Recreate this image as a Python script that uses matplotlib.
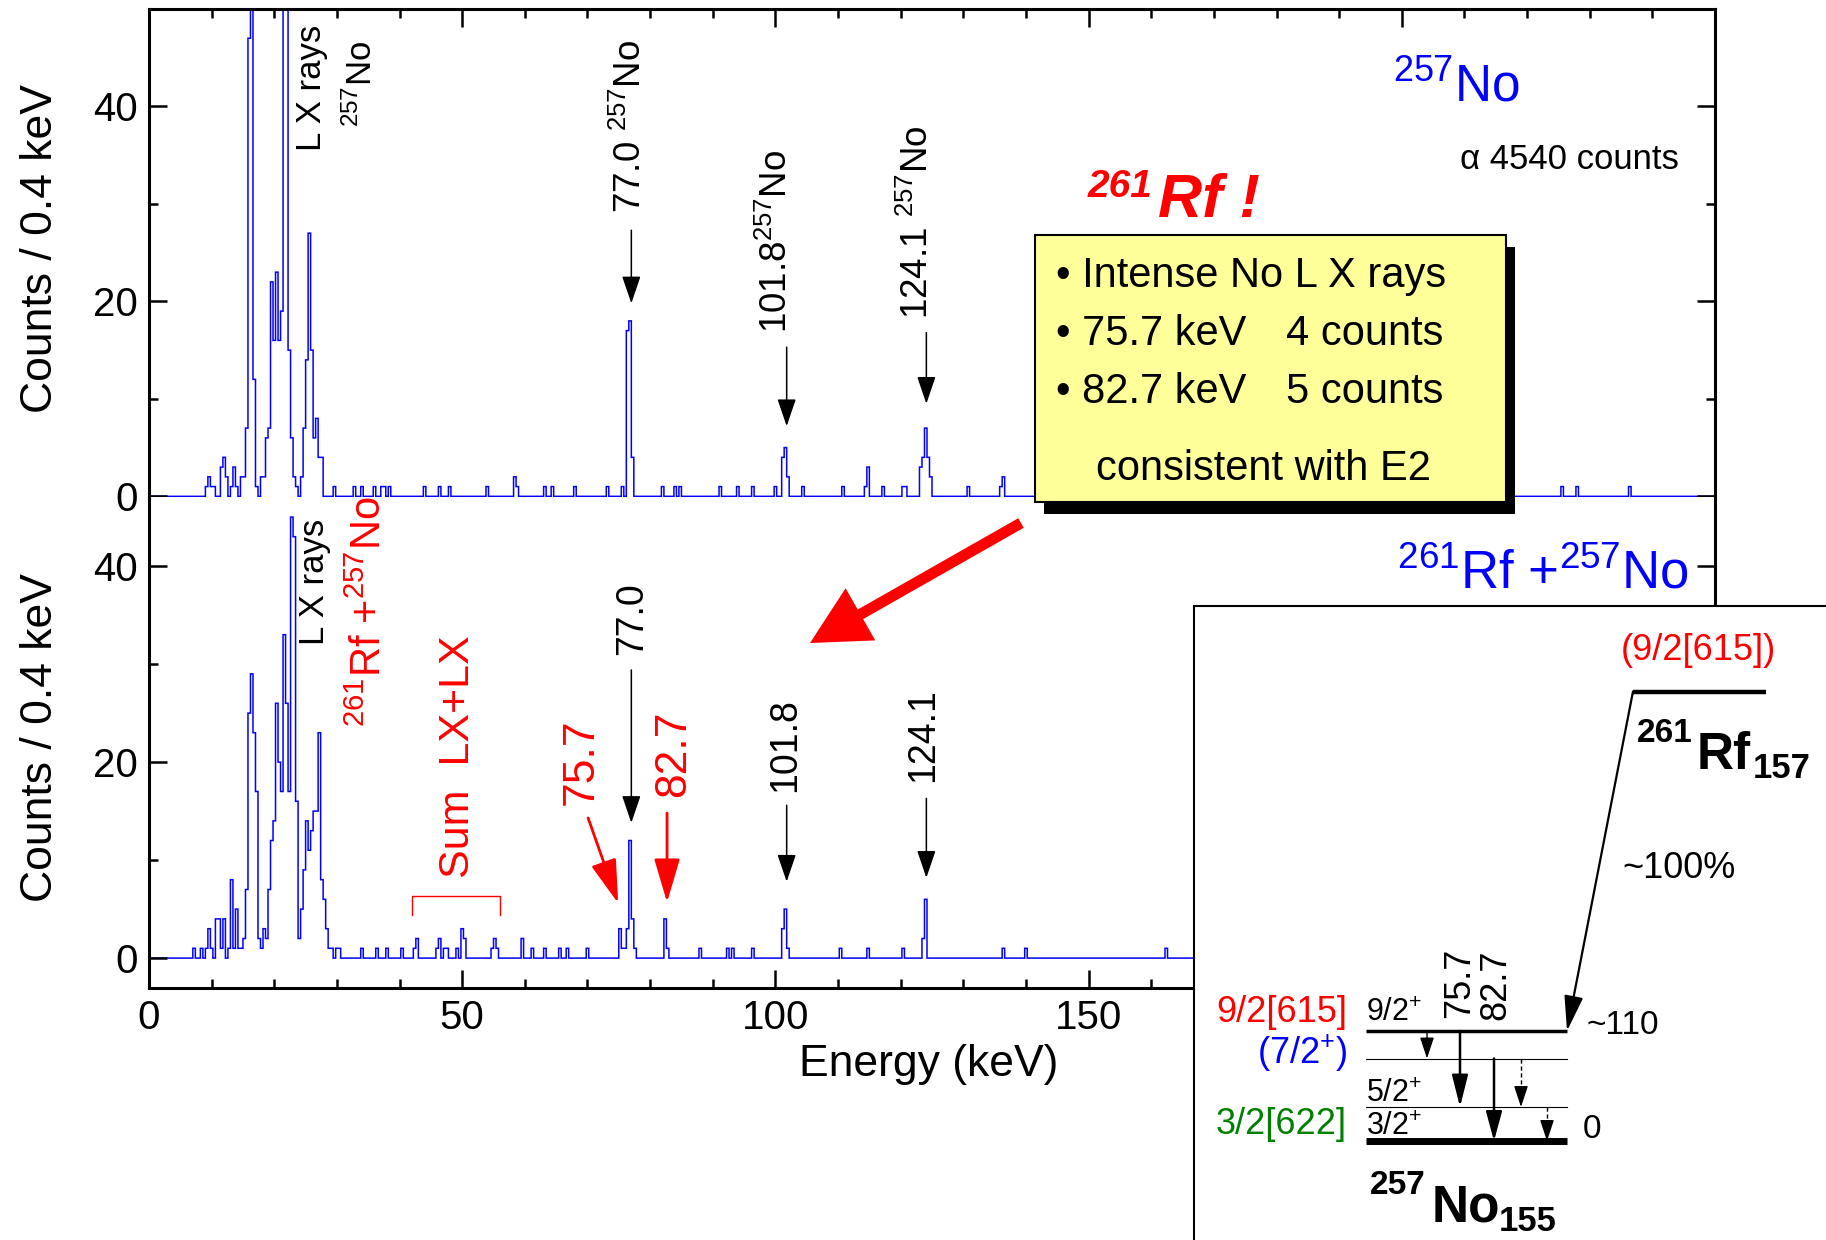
import numpy as np
import matplotlib
matplotlib.use("Agg")
import matplotlib.pyplot as plt
from matplotlib.patches import Rectangle, FancyArrow
from matplotlib.ticker import MultipleLocator, FixedLocator
from matplotlib import font_manager

# ------------------------------------------------------------------ data
bin_width = 0.4          # keV per channel
e_max = 250.0

# 257No reference spectrum (top): dense L X-ray region + isolated channels
top_dense_start = 9.0
top_dense_counts = [1, 2, 1, 1, 0, 0, 3, 4, 2, 0, 1, 3, 1, 0, 2, 2, 7, 47, 80, 12,
                    1, 0, 2, 2, 6, 7, 22, 16, 23, 16, 19, 80, 80, 15, 6, 2, 1, 0, 2, 7,
                    14, 27, 15, 6, 8, 4, 4]
top_peak_energy = [29.4, 32.6, 33.8, 35.8, 37.0, 37.4, 38.2, 43.8, 46.2, 47.8, 53.8,
                   58.2, 58.6, 63.0, 64.2, 67.8, 73.0, 75.4, 76.2, 76.6, 77.0, 81.8,
                   83.8, 84.6, 91.0, 93.8, 96.2, 99.8, 101.0, 101.4, 101.8, 104.2,
                   110.6, 114.2, 114.6, 117.0, 120.2, 120.6, 123.0, 123.4, 123.8,
                   124.2, 124.6, 130.6, 135.8, 136.2, 225.4, 227.8, 236.2]
top_peak_counts = [1, 1, 1, 1, 1, 1, 1, 1, 1, 1, 1,
                   2, 1, 1, 1, 1, 1, 1, 17, 18, 4, 1,
                   1, 1, 1, 1, 1, 1, 4, 5, 2, 1,
                   1, 1, 3, 1, 1, 1, 3, 4, 7,
                   4, 2, 1, 1, 2, 1, 1, 1]

# 261Rf + 257No spectrum (bottom)
bottom_dense_start = 7.0
bottom_dense_counts = [1, 0, 0, 1, 0, 1, 3, 1, 0, 4, 4, 1, 4, 0, 1, 8, 1, 5, 1, 1,
                       2, 7, 25, 29, 23, 17, 2, 1, 3, 2, 7, 12, 14, 26, 20, 17, 33, 26, 17, 45,
                       43, 16, 2, 5, 9, 14, 11, 13, 15, 15, 23, 8, 6, 3, 1, 1, 0, 1, 1]
bottom_peak_energy = [33.8, 36.2, 37.8, 40.2, 42.2, 42.6, 45.8, 46.2, 47.0, 47.4, 49.0,
                      49.8, 50.2, 54.6, 55.0, 55.4, 59.4, 61.0, 63.0, 65.4, 66.6, 69.8,
                      75.0, 75.4, 75.8, 76.2, 76.6, 77.0, 77.4, 82.2, 82.6, 87.8, 92.2,
                      93.0, 96.2, 101.0, 101.4, 101.8, 110.2, 114.6, 120.2, 123.4,
                      123.8, 136.2, 139.8, 162.2]
bottom_peak_counts = [1, 1, 1, 1, 1, 2, 1, 2, 1, 1, 1,
                      3, 2, 1, 2, 1, 2, 1, 1, 1, 1, 1,
                      3, 1, 1, 3, 12, 4, 1, 4, 1, 1, 1,
                      1, 1, 3, 5, 1, 1, 1, 1, 2,
                      6, 1, 1, 1]

x_ticks = [0, 50, 100, 150, 200, 250]
y_ticks = [0, 20, 40]

# gamma-line annotations: (label energy, label text)
top_lines = [(77.0, "77.0 $^{257}$No"), (101.8, "101.8$^{257}$No"), (124.1, "124.1 $^{257}$No")]
bottom_lines = [(77.0, "77.0"), (101.8, "101.8"), (124.1, "124.1")]
rf_lines = [(75.7, "75.7"), (82.7, "82.7")]

# ------------------------------------------------------------------ style
W, H, DPI = 1826, 1240, 100
FONT = "Liberation Sans"
installed = {f.name for f in font_manager.fontManager.ttflist}
NARROW = "Liberation Sans Narrow" if "Liberation Sans Narrow" in installed else FONT

plt.rcParams.update({
    "font.family": [FONT, "DejaVu Sans"],
    "mathtext.fontset": "custom",
    "mathtext.rm": FONT,
    "mathtext.it": FONT + ":italic",
    "mathtext.bf": FONT + ":bold",
})

BLUE, RED, GREEN = "#0000ff", "#ff0000", "#008000"

# ------------------------------------------------------------------ histogram
edges = np.concatenate([[0.0], np.arange(0.2, e_max, bin_width), [e_max]])


def build(start, dense, energies, counts):
    h = np.zeros(len(edges) - 1)
    k0 = int(round((start - 0.2) / bin_width)) + 1
    h[k0:k0 + len(dense)] = dense
    for e, n in zip(energies, counts):
        h[int(round((e - 0.2) / bin_width)) + 1] = n
    return h


top_hist = build(top_dense_start, top_dense_counts, top_peak_energy, top_peak_counts)
bottom_hist = build(bottom_dense_start, bottom_dense_counts, bottom_peak_energy, bottom_peak_counts)

# ------------------------------------------------------------------ figure
fig = plt.figure(figsize=(W / DPI, H / DPI), dpi=DPI)
L, R = 149 / W, 1715 / W
y_top, y_mid, y_bot = 1 - 9 / H, 1 - 497.5 / H, 1 - 987.5 / H
ax1 = fig.add_axes([L, y_mid, R - L, y_top - y_mid])
ax2 = fig.add_axes([L, y_bot, R - L, y_mid - y_bot])

ax1.stairs(top_hist, edges, color=BLUE, linewidth=1.1, baseline=None)
ax2.stairs(bottom_hist, edges, color=BLUE, linewidth=1.1, baseline=None)

for ax in (ax1, ax2):
    ax.set_xlim(0, e_max)
    ax.xaxis.set_major_locator(FixedLocator(x_ticks))
    ax.xaxis.set_minor_locator(MultipleLocator(10))
    ax.yaxis.set_major_locator(FixedLocator(y_ticks))
    ax.yaxis.set_minor_locator(MultipleLocator(10))
    ax.tick_params(which="both", direction="in", width=1.8, labelsize=29, pad=8,
                   left=True, right=True)
    ax.tick_params(which="major", length=13)
    ax.tick_params(which="minor", length=6.5)
    for s in ax.spines.values():
        s.set_linewidth(2.2)
    ax.set_ylabel("Counts / 0.4 keV", fontsize=32)
    ax.yaxis.set_label_coords(-0.056, 0.51)

ax1.set_ylim(-0.12, 50)
ax2.set_ylim(-3, 47)
ax1.tick_params(axis="x", which="both", top=True, bottom=False, labeltop=False, labelbottom=False)
ax2.tick_params(axis="x", which="both", top=False, bottom=True)
ax1.spines["bottom"].set_visible(False)
ax2.spines["top"].set_visible(False)
ax2.set_xlabel("Energy (keV)", fontsize=32)
ax2.xaxis.set_label_coords(0.498, -0.115)


def arrow(ax, x0, y0, x1, y1, color="k", lw=1.1, hl=17, hw=5.8, ls="-"):
    ax.annotate("", xy=(x1, y1), xytext=(x0, y0),
                arrowprops=dict(arrowstyle=f"-|>,head_length={hl},head_width={hw}",
                                color=color, lw=lw, shrinkA=0, shrinkB=0,
                                mutation_scale=1, linestyle=ls))


def vtext(ax, x, y, s, size, color="k", **kw):
    ax.text(x, y, s, rotation=90, ha="center", va="bottom", fontsize=size, color=color, **kw)


# ---- top panel annotations
vtext(ax1, 25.9, 35.4, "L X rays", 25)
vtext(ax1, 34.0, 37.9, "$^{257}$No", 25)
top_label_pos = [(76.9, 29.1, 27.3, 19.8), (100.3, 16.8, 15.3, 7.2), (122.8, 18.2, 16.8, 9.5)]
for (e, s), (xt, yt, ya, yb) in zip(top_lines, top_label_pos):
    vtext(ax1, xt, yt, s, 26.5)
    arrow(ax1, e, ya, e, yb)
ax1.text(0.8755, 0.811, "$^{257}$No", transform=ax1.transAxes, ha="right", va="baseline",
         fontsize=37, color=BLUE)
ax1.text(0.977, 0.672, "\u03b1 4540 counts", transform=ax1.transAxes, ha="right",
         va="baseline", fontsize=25)

# ---- bottom panel annotations
vtext(ax2, 26.4, 31.9, "L X rays", 25)
vtext(ax2, 35.2, 23.6, "$^{261}$Rf +$^{257}$No", 30, color=RED)
vtext(ax2, 49.4, 8.2, "Sum  LX+LX", 31, color=RED)
ax2.plot([42.0, 42.0, 56.0, 56.0], [4.4, 6.3, 6.3, 4.4], color=RED, lw=1.0)
bottom_label_pos = [(77.1, 30.9, 29.4, 13.8), (101.5, 17.0, 15.6, 7.8), (123.6, 18.0, 16.3, 8.2)]
for (e, s), (xt, yt, ya, yb) in zip(bottom_lines, bottom_label_pos):
    vtext(ax2, xt, yt, s, 27)
    arrow(ax2, e, ya, e, yb)
rf_label_pos = [(69.0, 15.6, 70.1, 14.3, 74.9, 5.6), (83.8, 16.4, 82.7, 14.8, 82.7, 5.7)]
for (e, s), (xt, yt, xa, ya, xb, yb) in zip(rf_lines, rf_label_pos):
    vtext(ax2, xt, yt, s, 32, color=RED)
    arrow(ax2, xa, ya, xb, yb, color=RED, lw=2.0, hl=27, hw=8)
ax2.text(0.983, 0.814, "$^{261}$Rf +$^{257}$No", transform=ax2.transAxes, ha="right",
         va="baseline", fontsize=38, color=BLUE)

# ------------------------------------------------------------------ overlay (pixel coords)
ov = fig.add_axes([0, 0, 1, 1], zorder=10)
ov.set_xlim(0, W)
ov.set_ylim(H, 0)
ov.axis("off")

# yellow summary box with shadow
ov.add_patch(Rectangle((1044, 247), 471, 267, facecolor="k", edgecolor="none"))
ov.add_patch(Rectangle((1035, 235), 471, 267, facecolor="#ffff99", edgecolor="k", lw=1.5))
ov.text(1056, 287, "\u2022 Intense No L X rays", fontsize=30, family=[NARROW, FONT], va="baseline")
ov.text(1056, 345, "\u2022 75.7 keV", fontsize=30, family=[NARROW, FONT], va="baseline")
ov.text(1286, 345, "4 counts", fontsize=30, family=[NARROW, FONT], va="baseline")
ov.text(1056, 403, "\u2022 82.7 keV", fontsize=30, family=[NARROW, FONT], va="baseline")
ov.text(1286, 403, "5 counts", fontsize=30, family=[NARROW, FONT], va="baseline")
ov.text(1263, 480, "consistent with E2", fontsize=30, family=[NARROW, FONT], va="baseline",
        ha="center")

# "261Rf !"
ov.text(1088, 197, "261", fontsize=28, color=RED, fontweight="bold", fontstyle="italic",
        va="baseline")
ov.text(1158, 217, "Rf !", fontsize=44, color=RED, fontweight="bold", fontstyle="italic",
        va="baseline")

# big red arrow
ov.add_patch(FancyArrow(1021, 523, -211, 120, width=11, head_width=60, head_length=58,
                        length_includes_head=True, color=RED, lw=0))

# level-scheme inset
ov.add_patch(Rectangle((1194, 606), 700, 700, facecolor="white", edgecolor="k", lw=1.5))
ov.text(1698, 650, "(9/2[615])", fontsize=26, color=RED, ha="center", va="center")
ov.plot([1633, 1766], [691.5, 691.5], color="k", lw=3.2, solid_capstyle="butt")
ov.text(1637, 742, "261", fontsize=24, fontweight="bold", va="baseline")
ov.text(1697, 769, "Rf", fontsize=37, fontweight="bold", va="baseline")
ov.text(1753, 778, "157", fontsize=25, fontweight="bold", va="baseline")
arrow(ov, 1633, 691.5, 1567, 1031, lw=1.6, hl=21.6, hw=5.8)
ov.text(1679, 868, "~100%", fontsize=26, ha="center", va="center")

lvl_x0, lvl_x1 = 1366, 1567
ov.plot([lvl_x0, lvl_x1], [1031, 1031], color="k", lw=2.5, solid_capstyle="butt")
ov.plot([lvl_x0, lvl_x1], [1058.5, 1058.5], color="k", lw=0.8)
ov.plot([lvl_x0, lvl_x1], [1107, 1107], color="k", lw=0.8)
ov.plot([lvl_x0, lvl_x1], [1141, 1141], color="k", lw=5, solid_capstyle="butt")
ov.text(1587, 1026, "~110", fontsize=24, va="center")
ov.text(1583, 1129, "0", fontsize=24, va="center")
ov.text(1347, 1022, "9/2[615]", fontsize=26, color=RED, ha="right", va="baseline")
ov.text(1347, 1053, "(7/2$^{+}$)", fontsize=26, color=BLUE, ha="right", va="center")
ov.text(1347, 1125, "3/2[622]", fontsize=26, color=GREEN, ha="right", va="center")
ov.text(1366, 1021, "9/2$^{+}$", fontsize=22, va="baseline")
ov.text(1366, 1102, "5/2$^{+}$", fontsize=22, va="baseline")
ov.text(1366, 1135, "3/2$^{+}$", fontsize=22, va="baseline")
ov.text(1460, 1018, "75.7", fontsize=26, rotation=90, ha="center", va="bottom")
ov.text(1496, 1020, "82.7", fontsize=26, rotation=90, ha="center", va="bottom")
arrow(ov, 1427, 1031, 1427, 1058.5, lw=1.0, hl=13, hw=4.3)
arrow(ov, 1460, 1031, 1460, 1107, lw=1.8, hl=19.5, hw=4.9)
arrow(ov, 1494, 1058.5, 1494, 1141, lw=1.8, hl=18, hw=4.9)
ov.plot([1521, 1521], [1058.5, 1092], color="k", lw=1.0, ls=(0, (3, 2)))
arrow(ov, 1521, 1093, 1521, 1107, lw=1.0, hl=13, hw=4.3)
ov.plot([1547, 1547], [1107, 1126], color="k", lw=1.0, ls=(0, (3, 2)))
arrow(ov, 1547, 1127, 1547, 1141, lw=1.0, hl=13, hw=4.3)
ov.text(1370, 1194.5, "257", fontsize=24, fontweight="bold", va="baseline")
ov.text(1432, 1222, "No", fontsize=37, fontweight="bold", va="baseline")
ov.text(1499, 1231, "155", fontsize=25, fontweight="bold", va="baseline")

fig.savefig("out.png", dpi=DPI)
